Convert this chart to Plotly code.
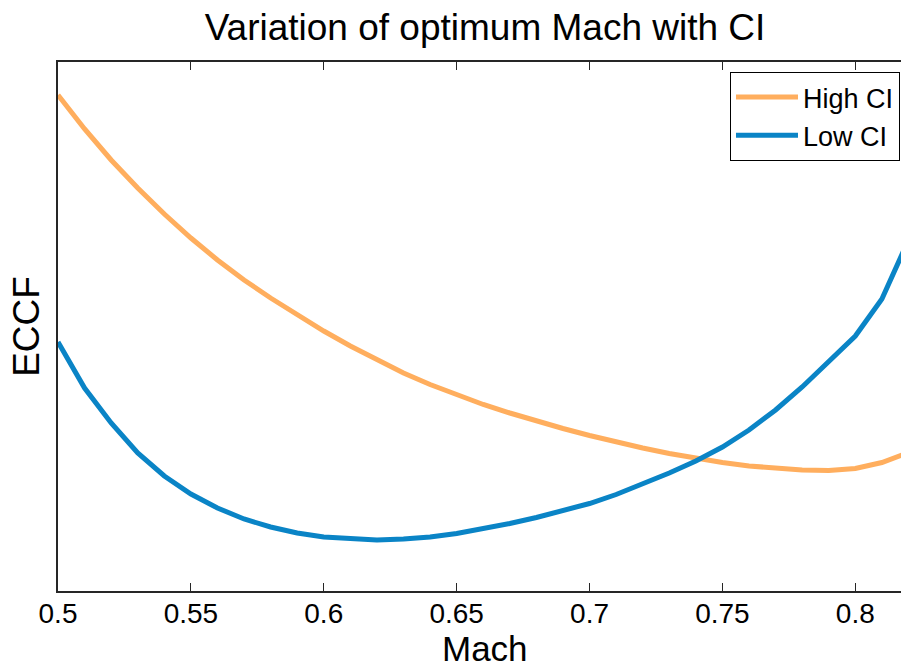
import plotly.graph_objects as go

# Mach number sweep
mach = [0.50, 0.51, 0.52, 0.53, 0.54, 0.55, 0.56, 0.57, 0.58, 0.59,
        0.60, 0.61, 0.62, 0.63, 0.64, 0.65, 0.66, 0.67, 0.68, 0.69,
        0.70, 0.71, 0.72, 0.73, 0.74, 0.75, 0.76, 0.77, 0.78, 0.79,
        0.80, 0.81, 0.82]

# ECCF (relative units) for high and low cost index
eccf_high_ci = [496, 462, 431, 403, 377, 353, 331, 311, 293, 276,
                260, 245, 231, 218, 206.5, 196, 186.5, 178, 170, 162.5,
                155.5, 149, 143, 137.5, 132.5, 128.5, 125, 122.5, 121, 120.5,
                122.5, 128.5, 138.5]
eccf_low_ci = [249, 203, 168, 138, 115, 97, 83, 72, 64, 58,
               54, 52, 51, 52, 54, 57.5, 62, 67.5, 73.5, 80,
               87.5, 96.5, 107, 118, 130, 144, 161, 181, 204, 229,
               255, 292, 351]

x_ticks = [0.5, 0.55, 0.6, 0.65, 0.7, 0.75, 0.8]
x_tick_text = ["0.5", "0.55", "0.6", "0.65", "0.7", "0.75", "0.8"]

font_family = "Liberation Sans, Arial, sans-serif"

fig = go.Figure()
fig.add_trace(go.Scatter(x=mach, y=eccf_high_ci, mode="lines", name="High CI",
                         line=dict(color="#FFAE5E", width=5)))
fig.add_trace(go.Scatter(x=mach, y=eccf_low_ci, mode="lines", name="Low CI",
                         line=dict(color="#0A84C6", width=5)))

# x-axis label placed just under the tick labels
fig.add_annotation(text="Mach", xref="paper", yref="paper",
                   x=(485 - 58) / 843, y=-(648 - 591) / 529,
                   xanchor="center", yanchor="middle", showarrow=False,
                   font=dict(size=35, family=font_family, color="black"))

fig.update_layout(
    width=901, height=667,
    margin=dict(l=58, r=0, t=62, b=76),
    paper_bgcolor="white", plot_bgcolor="white",
    font=dict(family=font_family, color="black"),
    title=dict(text="Variation of optimum Mach with CI",
               x=(485 - 58) / 843, xref="paper", xanchor="center",
               y=1 - 27 / 667, yanchor="middle",
               font=dict(size=37, family=font_family, color="black")),
    showlegend=True,
    legend=dict(x=0.9988, xanchor="right", y=0.981, yanchor="top",
                bgcolor="white", bordercolor="black", borderwidth=1,
                font=dict(size=27, family=font_family, color="black"),
                itemwidth=62, tracegroupgap=0),
    xaxis=dict(range=[0.5, 0.5 + 843 / 2657.7], tickvals=x_ticks, ticktext=x_tick_text,
               ticks="inside", ticklen=8, tickcolor="#262626", tickwidth=1,
               ticklabelstandoff=-3,
               showline=True, linecolor="#262626", linewidth=1.5, mirror="ticks",
               showgrid=False, zeroline=False,
               tickfont=dict(size=28, family=font_family, color="black")),
    yaxis=dict(range=[0, 529], showticklabels=False, ticks="",
               showline=True, linecolor="#262626", linewidth=1.5, mirror=False,
               showgrid=False, zeroline=False,
               title=dict(text="ECCF", standoff=5,
                          font=dict(size=37, family=font_family, color="black"))),
)

fig.write_html("out.html")
